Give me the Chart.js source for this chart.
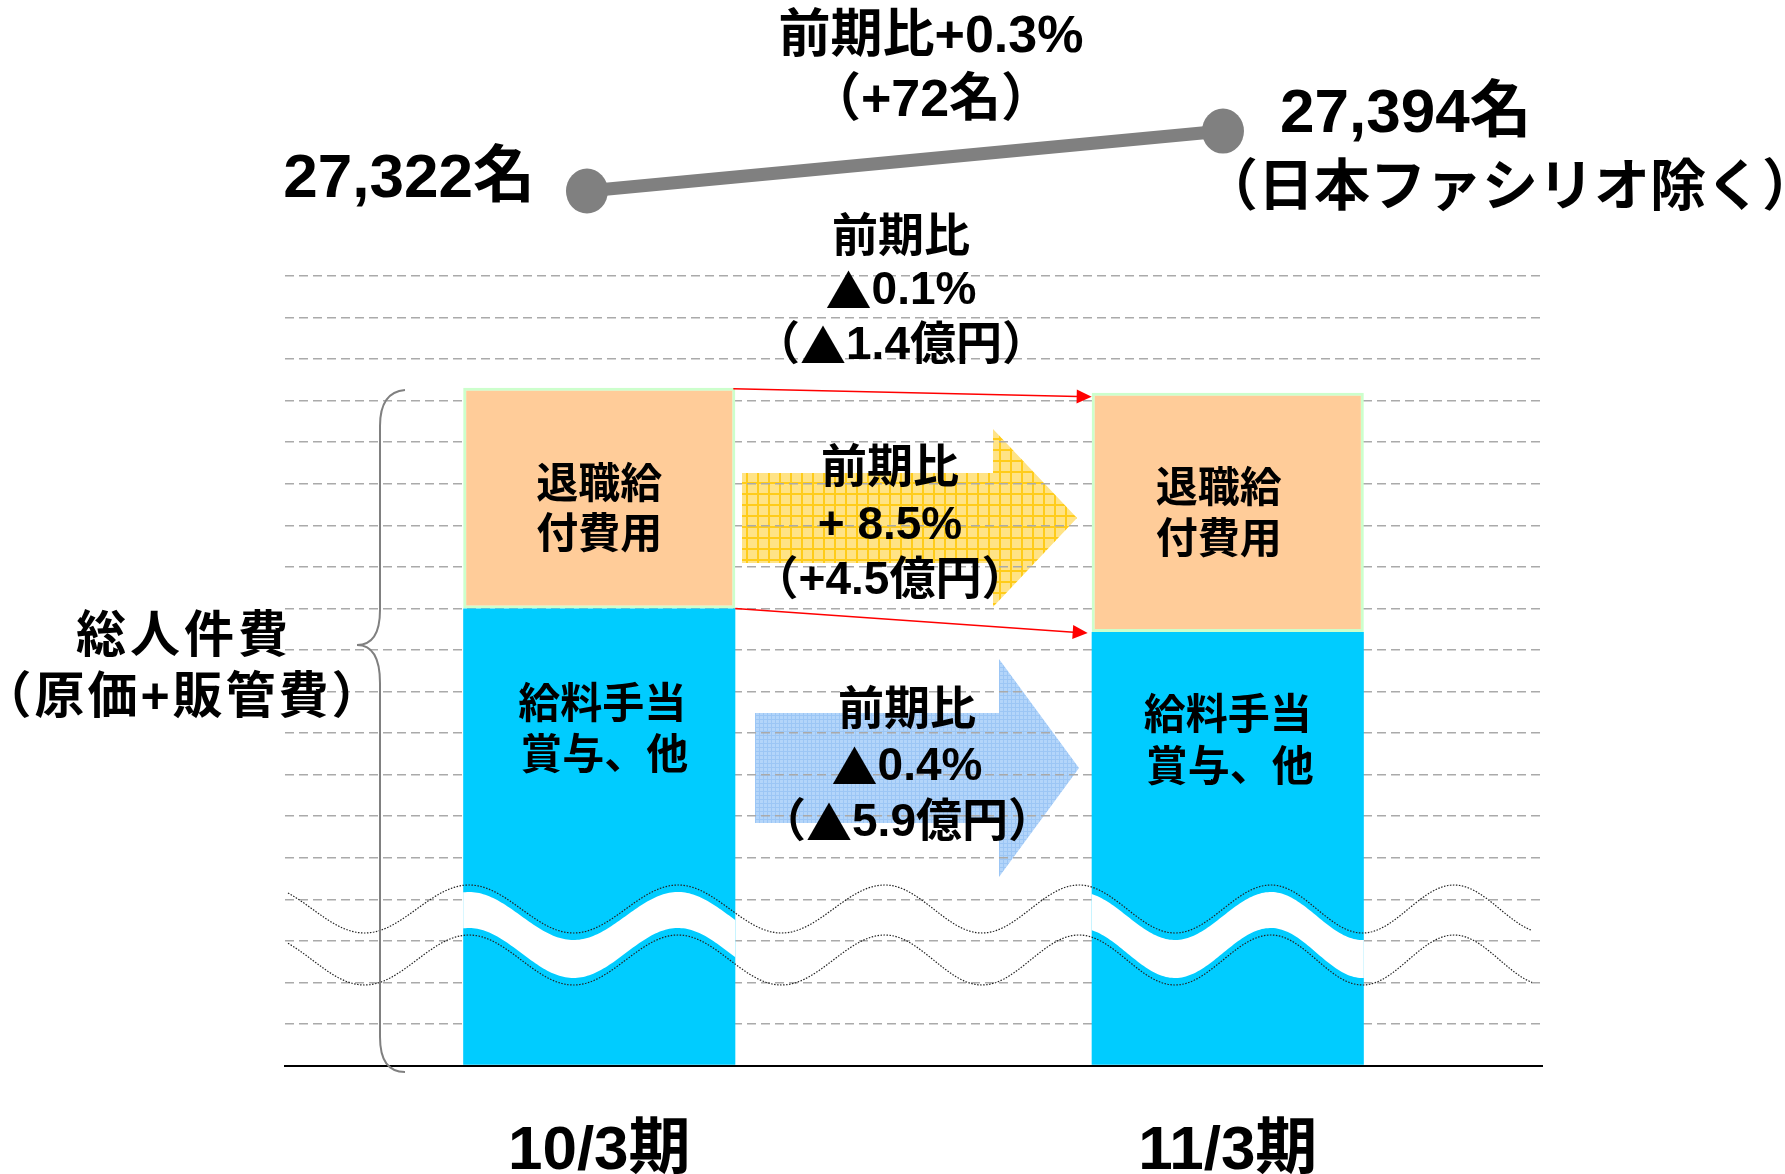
<!DOCTYPE html>
<html>
<head>
<meta charset="utf-8">
<script src="https://cdn.jsdelivr.net/npm/chart.js@4.4.1/dist/chart.umd.min.js"></script>
<style>
  html, body { margin: 0; padding: 0; background: #fff; }
  canvas { display: block; }
</style>
</head>
<body>
<canvas id="costChart" width="1785" height="1174"></canvas>
<script>
// 期
const periods = ['10/3期', '11/3期'];
// 縦軸は波線で省略されているので、目盛り（点線）単位で読み取った高さ
const salaryValues = [11.0, 10.43];      // 給料手当賞与、他
const retirementValues = [5.31, 5.76];   // 退職給付費用
// 人員数
const headcount = [27322, 27394];
const headcountLabels = ['27,322名', '27,394名'];

const salaryLabel = ['給料手当', '賞与、他'];
const retirementLabel = ['退職給', '付費用'];
const totalChange = ['前期比', '▲0.1%', '（▲1.4億円）'];
const retirementChange = ['前期比', '+ 8.5%', '（+4.5億円）'];
const salaryChange = ['前期比', '▲0.4%', '（▲5.9億円）'];
const headcountChange = ['前期比+0.3%', '（+72名）'];
const headcountNote = '（日本ファシリオ除く）';
const totalLabel = ['総人件費', '（原価+販管費）'];

const FONT = '"Liberation Sans", "Noto Sans CJK JP", sans-serif';
const CJK = '"Noto Sans CJK JP", sans-serif';

function makePattern(base, line, cell, lw) {
    const c = document.createElement('canvas');
    c.width = cell;
    c.height = cell;
    const g = c.getContext('2d');
    g.fillStyle = base;
    g.fillRect(0, 0, cell, cell);
    g.fillStyle = line;
    g.fillRect(cell - lw, 0, lw, cell);
    g.fillRect(0, cell - lw, cell, lw);
    return g.createPattern(c, 'repeat');
}

// ▲ だけは全角の字形で描く
function drawText(ctx, s, x, y, size, align, spacing) {
    const runs = s.split(/(▲)/).filter(r => r.length);
    ctx.textBaseline = 'middle';
    ctx.textAlign = 'left';
    ctx.fillStyle = '#000';
    ctx.letterSpacing = spacing ? spacing + 'px' : '0px';
    const fontOf = r => 'bold ' + size + 'px ' + (r === '▲' ? CJK : FONT);
    let total = 0;
    const widths = runs.map(r => {
        ctx.font = fontOf(r);
        const w = ctx.measureText(r).width;
        total += w;
        return w;
    });
    let cx = align === 'right' ? x - total : align === 'left' ? x : x - total / 2;
    runs.forEach((r, i) => {
        ctx.font = fontOf(r);
        ctx.fillText(r, cx, y);
        cx += widths[i];
    });
    ctx.letterSpacing = '0px';
}

function bigArrow(ctx, x0, x1, yTop, yBot, headTop, headBot, tipX, fill) {
    const cy = (yTop + yBot) / 2;
    ctx.beginPath();
    ctx.moveTo(x0, yTop);
    ctx.lineTo(x1, yTop);
    ctx.lineTo(x1, headTop);
    ctx.lineTo(tipX, cy);
    ctx.lineTo(x1, headBot);
    ctx.lineTo(x1, yBot);
    ctx.lineTo(x0, yBot);
    ctx.closePath();
    ctx.fillStyle = fill;
    ctx.fill();
}

function redArrow(ctx, x0, y0, x1, y1) {
    const a = Math.atan2(y1 - y0, x1 - x0);
    const c = Math.cos(a), s = Math.sin(a);
    ctx.strokeStyle = '#ff0000';
    ctx.fillStyle = '#ff0000';
    ctx.lineWidth = 1.5;
    ctx.beginPath();
    ctx.moveTo(x0, y0);
    ctx.lineTo(x1 - 14 * c, y1 - 14 * s);
    ctx.stroke();
    ctx.beginPath();
    ctx.moveTo(x1, y1);
    ctx.lineTo(x1 - 15 * c + 7 * s, y1 - 15 * s - 7 * c);
    ctx.lineTo(x1 - 15 * c - 7 * s, y1 - 15 * s + 7 * c);
    ctx.closePath();
    ctx.fill();
}

// 波線（省略記号）の形
const wavePeaks = [469, 678, 885, 1079, 1271, 1454];
function wavePhase(x) {
    const p = wavePeaks;
    if (x <= p[0]) return (x - p[0]) / (p[1] - p[0]);
    for (let i = 0; i < p.length - 1; i++) {
        if (x <= p[i + 1]) return i + (x - p[i]) / (p[i + 1] - p[i]);
    }
    const n = p.length - 1;
    return n + (x - p[n]) / (p[n] - p[n - 1]);
}
const waveUpper = x => 909 - 24 * Math.cos(2 * Math.PI * wavePhase(x));
const waveLower = x => 960 - 25 * Math.cos(2 * Math.PI * wavePhase(x));

const decorations = {
    id: 'decorations',
    beforeDraw(chart) {
        const ctx = chart.ctx;
        ctx.save();
        bigArrow(ctx, 742, 993, 473, 563, 429, 607, 1077, makePattern('#ffe386', '#ffcc1a', 11, 2));
        bigArrow(ctx, 755, 999, 713, 823, 659, 877, 1079, makePattern('#b3d5fa', '#9cc6f5', 4, 1));
        ctx.restore();
    },
    afterDatasetsDraw(chart) {
        const ctx = chart.ctx;
        const area = chart.chartArea;
        const salaryBars = chart.getDatasetMeta(0).data;
        const retireBars = chart.getDatasetMeta(1).data;
        const pts = chart.getDatasetMeta(2).data;
        ctx.save();

        // 人員数の点（グラフ領域の外なので自分で描く）
        ctx.fillStyle = '#808080';
        pts.forEach(p => {
            ctx.beginPath();
            ctx.ellipse(p.x, p.y, 21, 22.5, 0, 0, Math.PI * 2);
            ctx.fill();
        });

        // 省略の白い帯（棒の中だけ）
        salaryBars.forEach(bar => {
            const left = bar.x - bar.width / 2;
            const right = bar.x + bar.width / 2;
            ctx.save();
            ctx.beginPath();
            ctx.rect(left, bar.y, right - left, bar.base - bar.y);
            ctx.clip();
            ctx.beginPath();
            for (let x = left - 2; x <= right + 2; x += 2) ctx.lineTo(x, waveUpper(x) + 7);
            for (let x = right + 2; x >= left - 2; x -= 2) ctx.lineTo(x, waveLower(x) - 7);
            ctx.closePath();
            ctx.fillStyle = '#fff';
            ctx.fill();
            ctx.restore();
        });

        // 点線の波
        ctx.strokeStyle = '#222';
        ctx.lineWidth = 1.2;
        ctx.setLineDash([1.5, 1.5]);
        [waveUpper, waveLower].forEach(f => {
            ctx.beginPath();
            for (let x = area.left + 3; x <= area.right - 10; x += 2) ctx.lineTo(x, f(x));
            ctx.stroke();
        });
        ctx.setLineDash([]);

        // 赤い矢印
        const l = retireBars[0], r = retireBars[1];
        const lr = l.x + l.width / 2, rl = r.x - r.width / 2;
        redArrow(ctx, lr - 2, l.y + 1, rl, r.y + 4);
        redArrow(ctx, lr, l.base, rl - 4, r.base + 1);

        // 中括弧
        ctx.strokeStyle = '#808080';
        ctx.lineWidth = 2;
        ctx.beginPath();
        ctx.moveTo(405, 390);
        ctx.quadraticCurveTo(380, 392, 380, 426);
        ctx.lineTo(380, 610);
        ctx.quadraticCurveTo(380, 645, 357, 645);
        ctx.quadraticCurveTo(380, 645, 380, 683);
        ctx.lineTo(380, 1037);
        ctx.quadraticCurveTo(380, 1072, 405, 1072);
        ctx.stroke();
        ctx.restore();
    },
    afterDraw(chart) {
        const ctx = chart.ctx;
        const xs = chart.scales.x;
        const salaryBars = chart.getDatasetMeta(0).data;
        const retireBars = chart.getDatasetMeta(1).data;
        const pts = chart.getDatasetMeta(2).data;
        ctx.save();

        periods.forEach((p, i) => drawText(ctx, p, xs.getPixelForValue(i), 1152, 62));

        // 棒の中の文字
        drawText(ctx, retirementLabel[0], retireBars[0].x, 486, 42);
        drawText(ctx, retirementLabel[1], retireBars[0].x, 536, 42);
        drawText(ctx, retirementLabel[0], retireBars[1].x - 9, 490, 42);
        drawText(ctx, retirementLabel[1], retireBars[1].x - 9, 541, 42);
        drawText(ctx, salaryLabel[0], salaryBars[0].x + 3, 706, 42);
        drawText(ctx, salaryLabel[1], salaryBars[0].x + 5, 757, 42);
        drawText(ctx, salaryLabel[0], salaryBars[1].x, 717, 42);
        drawText(ctx, salaryLabel[1], salaryBars[1].x + 2, 769, 42);

        // 増減
        [238, 291, 346].forEach((y, i) => drawText(ctx, totalChange[i], 901, y, 46));
        [469, 526, 581].forEach((y, i) => drawText(ctx, retirementChange[i], 890, y, 46));
        [711, 767, 823].forEach((y, i) => drawText(ctx, salaryChange[i], 907, y, 46));

        // 人員数
        drawText(ctx, headcountLabels[0], pts[0].x - 52, pts[0].y - 11, 62, 'right');
        drawText(ctx, headcountLabels[1], pts[1].x + 57, pts[1].y - 16, 62, 'left');
        drawText(ctx, headcountNote, 1510, 190, 56);
        drawText(ctx, headcountChange[0], 931, 38, 52);
        drawText(ctx, headcountChange[1], 931, 102, 52);

        // 左の見出し
        drawText(ctx, totalLabel[0], 184, 638, 50, 'center', 4);
        drawText(ctx, totalLabel[1], 183, 699, 50, 'center', 3);
        ctx.restore();
    }
};

new Chart(document.getElementById('costChart'), {
    type: 'bar',
    data: {
        labels: periods,
        datasets: [
            {
                label: '給料手当賞与、他',
                data: salaryValues,
                backgroundColor: '#00ccff',
                borderWidth: 0,
                order: 2
            },
            {
                label: '退職給付費用',
                data: retirementValues,
                backgroundColor: '#ffcc99',
                borderColor: '#ccffcc',
                borderWidth: 3,
                borderSkipped: false,
                order: 2
            },
            {
                type: 'line',
                label: '人員数',
                data: headcount.map((v, i) => ({ x: i, y: v })),
                xAxisID: 'x2',
                yAxisID: 'y2',
                borderColor: '#808080',
                borderWidth: 13,
                pointRadius: 0,
                clip: false,
                order: 1
            }
        ]
    },
    options: {
        responsive: false,
        animation: false,
        devicePixelRatio: 1,
        layout: { padding: { left: 285, right: 243, top: 276, bottom: 108.5 } },
        plugins: { legend: { display: false }, tooltip: { enabled: false } },
        datasets: { bar: { categoryPercentage: 1, barPercentage: 0.433, grouped: false } },
        scales: {
            x: {
                stacked: true,
                offset: true,
                grid: { display: false, drawTicks: false, offset: true },
                ticks: { display: false },
                border: { display: true, color: '#000', width: 2 }
            },
            y: {
                stacked: true,
                min: 0,
                max: 19,
                ticks: { display: false, stepSize: 1 },
                grid: {
                    drawTicks: false,
                    lineWidth: 1.5,
                    color: c => c.tick.value === 0 ? 'rgba(0,0,0,0)' : '#aaaaaa'
                },
                border: { display: false, dash: [9, 5] }
            },
            x2: { type: 'linear', display: false, offset: false, min: -0.4748, max: 1.5016 },
            y2: { type: 'linear', display: false, min: 26272, max: 27220 }
        }
    },
    plugins: [decorations]
});
</script>
</body>
</html>
